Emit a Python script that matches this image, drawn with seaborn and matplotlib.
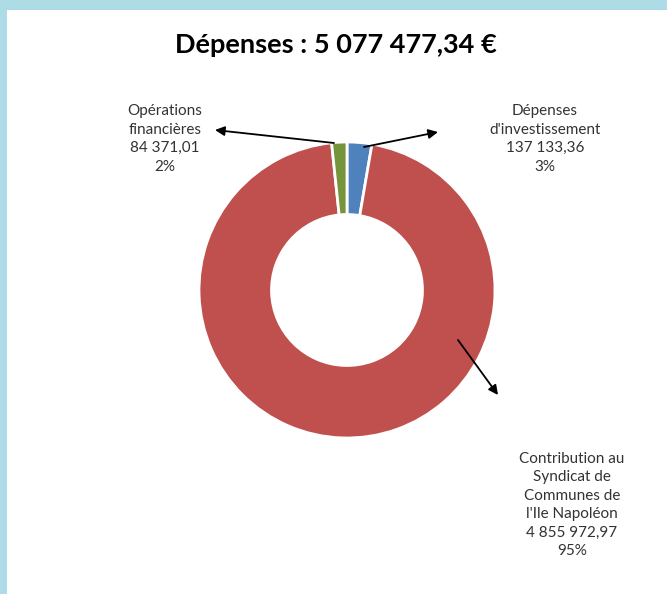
import matplotlib
matplotlib.use("Agg")
import numpy as np
import seaborn as sns
import matplotlib.pyplot as plt
from matplotlib.patches import Rectangle

sns.set_theme(style="white")
plt.rcParams['font.family'] = ['Lato', 'DejaVu Sans']

# données
categories = ["Dépenses\nd'investissement",
              "Contribution au\nSyndicat de\nCommunes de\nl'Ile Napoléon",
              "Opérations\nfinancières"]
montants = [137133.36, 4855972.97, 84371.01]
montants_txt = ["137 133,36", "4 855 972,97", "84 371,01"]
pourcent_txt = ["3%", "95%", "2%"]
couleurs = ["#4F81BD", "#C0504D", "#77933C"]
titre = "Dépenses : 5 077 477,34 €"

W, H = 667, 594
fig = plt.figure(figsize=(W / 100, H / 100), dpi=100)
fig.patch.set_facecolor("#ADDCE6")
ax = fig.add_axes([0, 0, 1, 1])
ax.set_xlim(0, W)
ax.set_ylim(0, H)
ax.axis("off")
# cadre blanc
ax.add_patch(Rectangle((7, 0), W - 7, H - 10, facecolor="white", edgecolor="none", zorder=0))

cx, cy, R = 347, H - 290, 148
ax.pie(montants, colors=couleurs, startangle=90, counterclock=False,
       center=(cx, cy), radius=R,
       wedgeprops=dict(width=R * 0.49, edgecolor="white", linewidth=2))
ax.set_xlim(0, W)
ax.set_ylim(0, H)
ax.set_aspect("equal")

# étiquettes : (début flèche, fin flèche, position texte)
fleches = [((364, 147), (438, 132), (545, 139)),
           ((458, 340), (498, 395), (572, 505)),
           ((334, 143), (215, 130), (165, 139))]
for i, (p0, p1, pt) in enumerate(fleches):
    ax.annotate("", xy=(p1[0], H - p1[1]), xytext=(p0[0], H - p0[1]),
                arrowprops=dict(arrowstyle="-|>", color="black", lw=1.3,
                                mutation_scale=14, shrinkA=0, shrinkB=0))
    txt = categories[i] + "\n" + montants_txt[i] + "\n" + pourcent_txt[i]
    ax.text(pt[0], H - pt[1], txt, ha="center", va="center", fontsize=11,
            color="#333333", linespacing=1.4)

ax.text(336, H - 45, titre, ha="center", va="center", fontsize=19.5,
        fontweight="bold", color="black")

fig.savefig("out.png", dpi=100)
